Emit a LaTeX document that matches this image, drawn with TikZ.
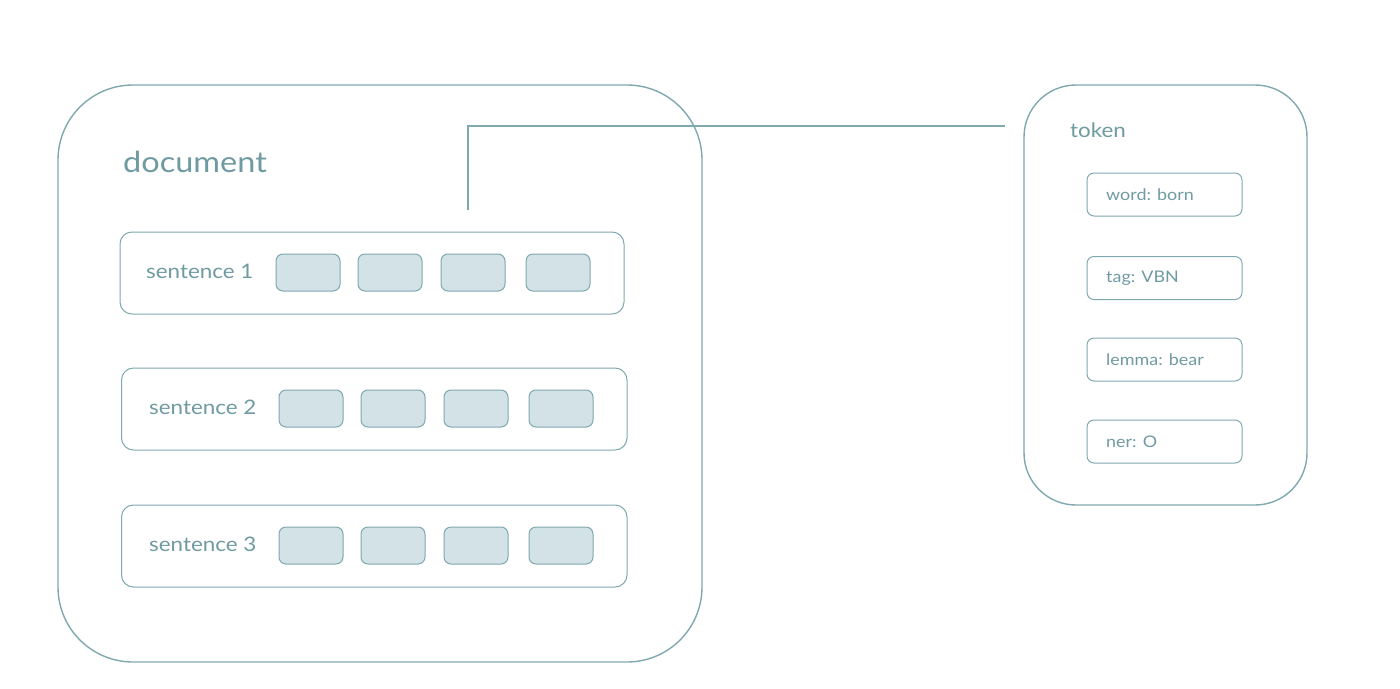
\documentclass[tikz,border=0pt]{standalone}
\usepackage{fontspec}
\setmainfont{Lato}[FakeStretch=1.12]
\definecolor{ln}{HTML}{7FA8AF}
\definecolor{tx}{HTML}{6F9AA1}
\definecolor{tk}{HTML}{D3E2E6}
\tikzset{
  outer/.style={draw=ln, line width=1.4pt, rounded corners=#1},
  sentbox/.style={draw=ln, line width=1pt, rounded corners=12pt},
  tokbox/.style={draw=ln, fill=tk, line width=1pt, rounded corners=7pt},
  attrbox/.style={draw=ln, line width=1pt, rounded corners=7pt, minimum width=155pt, minimum height=43pt, inner sep=0pt},
  lbl/.style={text=tx, anchor=west, inner sep=0pt},
  conn/.style={draw=ln, line width=1.4pt}
}
\begin{document}
\begin{tikzpicture}[x=1pt,y=-1pt]
\useasboundingbox (0,0) rectangle (1400,688);
% document
\draw[outer=75pt] (58,85) rectangle (702,662);
\node[lbl, font=\fontsize{29}{32}\selectfont] (doc) at (123,162) {document};
% sentences
\foreach \i/\y/\xo in {1/273/0, 2/409/3, 3/546/3} {
  \draw[sentbox] (120+\xo/2,\y-41) rectangle (624+\xo,\y+41);
  \node[lbl, font=\fontsize{20}{24}\selectfont] (s\i) at (146+\xo,\y-2) {sentence \i};
  \foreach \j/\x in {1/276, 2/358, 3/441, 4/526} {
    \draw[tokbox] (\x+\xo,\y-19) rectangle (\x+\xo+64,\y+18);
  }
}
% connector
\coordinate (cA) at (468,210);
\coordinate (cB) at (1005,126);
\draw[conn] (cA) |- (cB);
% token box
\draw[outer=52pt] (1024,85) rectangle (1307,505);
\node[lbl, font=\fontsize{20}{24}\selectfont] (tok) at (1070,130) {token};
\foreach \n/\y/\t in {w/194.5/word: born, t/278/tag: VBN, l/359.5/lemma: bear, n/441.5/ner: O} {
  \node[attrbox] (\n) at (1164.5,\y) {};
  \node[lbl, font=\fontsize{16}{20}\selectfont] at (1106,\y) {\t};
}
\end{tikzpicture}
\end{document}
